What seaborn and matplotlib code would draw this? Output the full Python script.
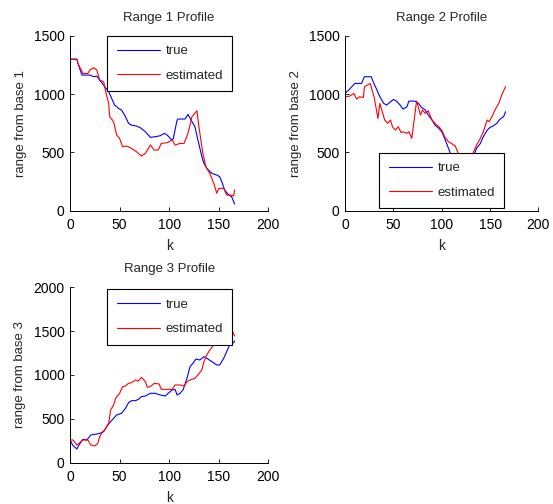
import matplotlib
matplotlib.use("Agg")
import matplotlib.pyplot as plt
import seaborn as sns
import pandas as pd

# Range profiles: true vs. estimated range from each base station over time step k
k1_true = [0, 7, 8, 12, 20, 24, 27, 30, 35, 39, 42, 45, 49, 52, 56, 59, 62, 67, 71, 76,
           81, 86, 91, 95, 98, 102, 104, 108, 109, 116, 119, 123, 126, 129, 133, 135, 138, 143, 148, 151,
           153, 156, 160, 163, 166]
r1_true = [1300, 1297, 1263, 1163, 1163, 1149, 1154, 1120, 1063, 1020, 963, 906, 877, 863, 806, 749, 734, 726, 711, 677,
           629, 634, 643, 663, 649, 611, 614, 777, 786, 786, 826, 763, 720, 606, 463, 406, 363, 320, 306, 291,
           249, 177, 134, 120, 57]
k1_est = [0, 7, 8, 13, 18, 20, 24, 27, 30, 34, 36, 39, 40, 44, 47, 50, 53, 57, 62, 67,
          72, 76, 81, 85, 89, 92, 98, 103, 106, 111, 115, 119, 123, 128, 130, 134, 137, 141, 145, 148,
          150, 155, 158, 162, 165, 166]
r1_est = [1300, 1300, 1263, 1177, 1177, 1206, 1226, 1206, 1120, 1106, 1020, 920, 806, 763, 649, 620, 549, 554, 534, 506,
          469, 491, 563, 520, 520, 577, 583, 606, 563, 577, 577, 663, 806, 857, 720, 491, 377, 320, 234, 149,
          191, 191, 134, 134, 126, 177]

k2_true = [0, 3, 7, 10, 17, 20, 27, 29, 33, 36, 40, 43, 47, 50, 53, 57, 60, 64, 66, 72,
           76, 79, 83, 86, 90, 93, 97, 100, 103, 107, 109, 113, 118, 123, 128, 134, 136, 140, 143, 147,
           150, 153, 157, 160, 164, 166]
r2_true = [1006, 1029, 1063, 1091, 1091, 1149, 1149, 1106, 1034, 977, 920, 906, 934, 954, 940, 906, 871, 891, 940, 940,
           920, 886, 863, 820, 777, 734, 706, 677, 620, 534, 491, 430, 370, 320, 360, 491, 534, 577, 634, 691,
           714, 726, 749, 783, 806, 849]
k2_est = [0, 5, 9, 12, 15, 19, 20, 23, 26, 28, 30, 34, 36, 38, 41, 44, 47, 49, 52, 55,
          58, 60, 64, 66, 69, 74, 78, 80, 83, 86, 90, 93, 97, 100, 103, 107, 110, 114, 117, 120,
          124, 128, 133, 136, 140, 143, 147, 149, 152, 155, 159, 162, 166]
r2_est = [977, 983, 1006, 957, 977, 971, 1063, 1077, 1091, 1034, 977, 791, 920, 863, 777, 749, 777, 720, 691, 720,
          669, 677, 663, 677, 620, 940, 820, 863, 834, 857, 777, 749, 720, 691, 634, 591, 577, 554, 491, 430,
          370, 400, 506, 563, 620, 677, 777, 763, 806, 863, 920, 991, 1063]

k3_true = [0, 3, 7, 9, 13, 17, 21, 27, 30, 34, 37, 40, 44, 47, 52, 56, 59, 62, 66, 69,
           72, 76, 81, 86, 91, 96, 99, 103, 106, 108, 111, 114, 118, 121, 124, 127, 131, 135, 138, 143,
           148, 151, 155, 158, 161, 165, 166]
r3_true = [259, 194, 156, 201, 266, 259, 316, 327, 335, 354, 411, 456, 506, 544, 563, 620, 684, 707, 707, 722,
           753, 760, 791, 791, 772, 760, 791, 829, 836, 772, 791, 829, 962, 1095, 1133, 1182, 1171, 1209, 1190, 1152,
           1114, 1114, 1190, 1266, 1342, 1369, 1388]
k3_est = [0, 3, 7, 10, 13, 18, 21, 25, 28, 30, 33, 35, 39, 41, 44, 46, 50, 53, 56, 59,
          62, 66, 69, 72, 76, 78, 81, 85, 90, 92, 98, 103, 106, 111, 115, 118, 121, 126, 129, 133,
          135, 138, 141, 145, 148, 152, 156, 159, 161, 164, 166]
r3_est = [259, 259, 201, 228, 259, 259, 201, 190, 220, 297, 354, 373, 449, 601, 658, 734, 791, 867, 874, 905,
          912, 943, 931, 973, 924, 859, 867, 905, 897, 836, 836, 836, 886, 886, 874, 924, 943, 962, 1000, 1057,
          1152, 1228, 1285, 1342, 1380, 1430, 1480, 1520, 1513, 1494, 1445]

series_labels = ["true", "estimated"]
series_colors = {"true": "#0000ff", "estimated": "#ff0000"}

sns.set_style("white")
plt.rcParams["font.family"] = ["Liberation Sans", "DejaVu Sans"]
plt.rcParams["font.size"] = 10

fig = plt.figure(figsize=(5.53, 5.04), dpi=100)

panels = [
    dict(rect=[0.1266, 0.582, 0.3586, 0.347], title="Range 1 Profile", ylabel="range from base 1",
         ymax=1500, yticks=[0, 500, 1000, 1500], data=(k1_true, r1_true, k1_est, r1_est),
         leg=dict(loc="upper left", bbox_to_anchor=(0.188, 1.0))),
    dict(rect=[0.624, 0.582, 0.3496, 0.347], title="Range 2 Profile", ylabel="range from base 2",
         ymax=1500, yticks=[0, 500, 1000, 1500], data=(k2_true, r2_true, k2_est, r2_est),
         leg=dict(loc="lower left", bbox_to_anchor=(0.177, 0.014))),
    dict(rect=[0.1266, 0.082, 0.3586, 0.348], title="Range 3 Profile", ylabel="range from base 3",
         ymax=2000, yticks=[0, 500, 1000, 1500, 2000], data=(k3_true, r3_true, k3_est, r3_est),
         leg=dict(loc="upper left", bbox_to_anchor=(0.188, 0.989))),
]

for p in panels:
    ax = fig.add_axes(p["rect"])
    kt, rt, ke, re_ = p["data"]
    df = pd.concat([
        pd.DataFrame({"k": kt, "range": rt, "series": series_labels[0]}),
        pd.DataFrame({"k": ke, "range": re_, "series": series_labels[1]}),
    ], ignore_index=True)
    sns.lineplot(data=df, x="k", y="range", hue="series", hue_order=series_labels,
                 palette=series_colors, estimator=None, sort=False, linewidth=0.8, ax=ax)
    ax.set_xlim(0, 200)
    ax.set_ylim(0, p["ymax"])
    ax.set_xticks([0, 50, 100, 150, 200])
    ax.set_yticks(p["yticks"])
    ax.set_title(p["title"], fontsize=9.5, pad=11)
    ax.set_xlabel("k", fontsize=10, labelpad=5)
    ax.set_ylabel(p["ylabel"], fontsize=9.5, labelpad=5)
    ax.tick_params(direction="in", length=3, width=0.6, labelsize=10, pad=5,
                   bottom=True, left=True, colors="black")
    ax.tick_params(axis="y", pad=4)
    sns.despine(ax=ax)
    for side in ("left", "bottom"):
        ax.spines[side].set_color("black")
        ax.spines[side].set_linewidth(0.7)
    leg = ax.legend(fontsize=9.5, frameon=True, fancybox=False, framealpha=1,
                    edgecolor="black", borderaxespad=0, handlelength=3.3,
                    handletextpad=0.4, borderpad=0.7, labelspacing=0.95, **p["leg"])
    leg.get_frame().set_linewidth(0.8)
    leg.set_title(None)

fig.savefig("out.png", dpi=100)
